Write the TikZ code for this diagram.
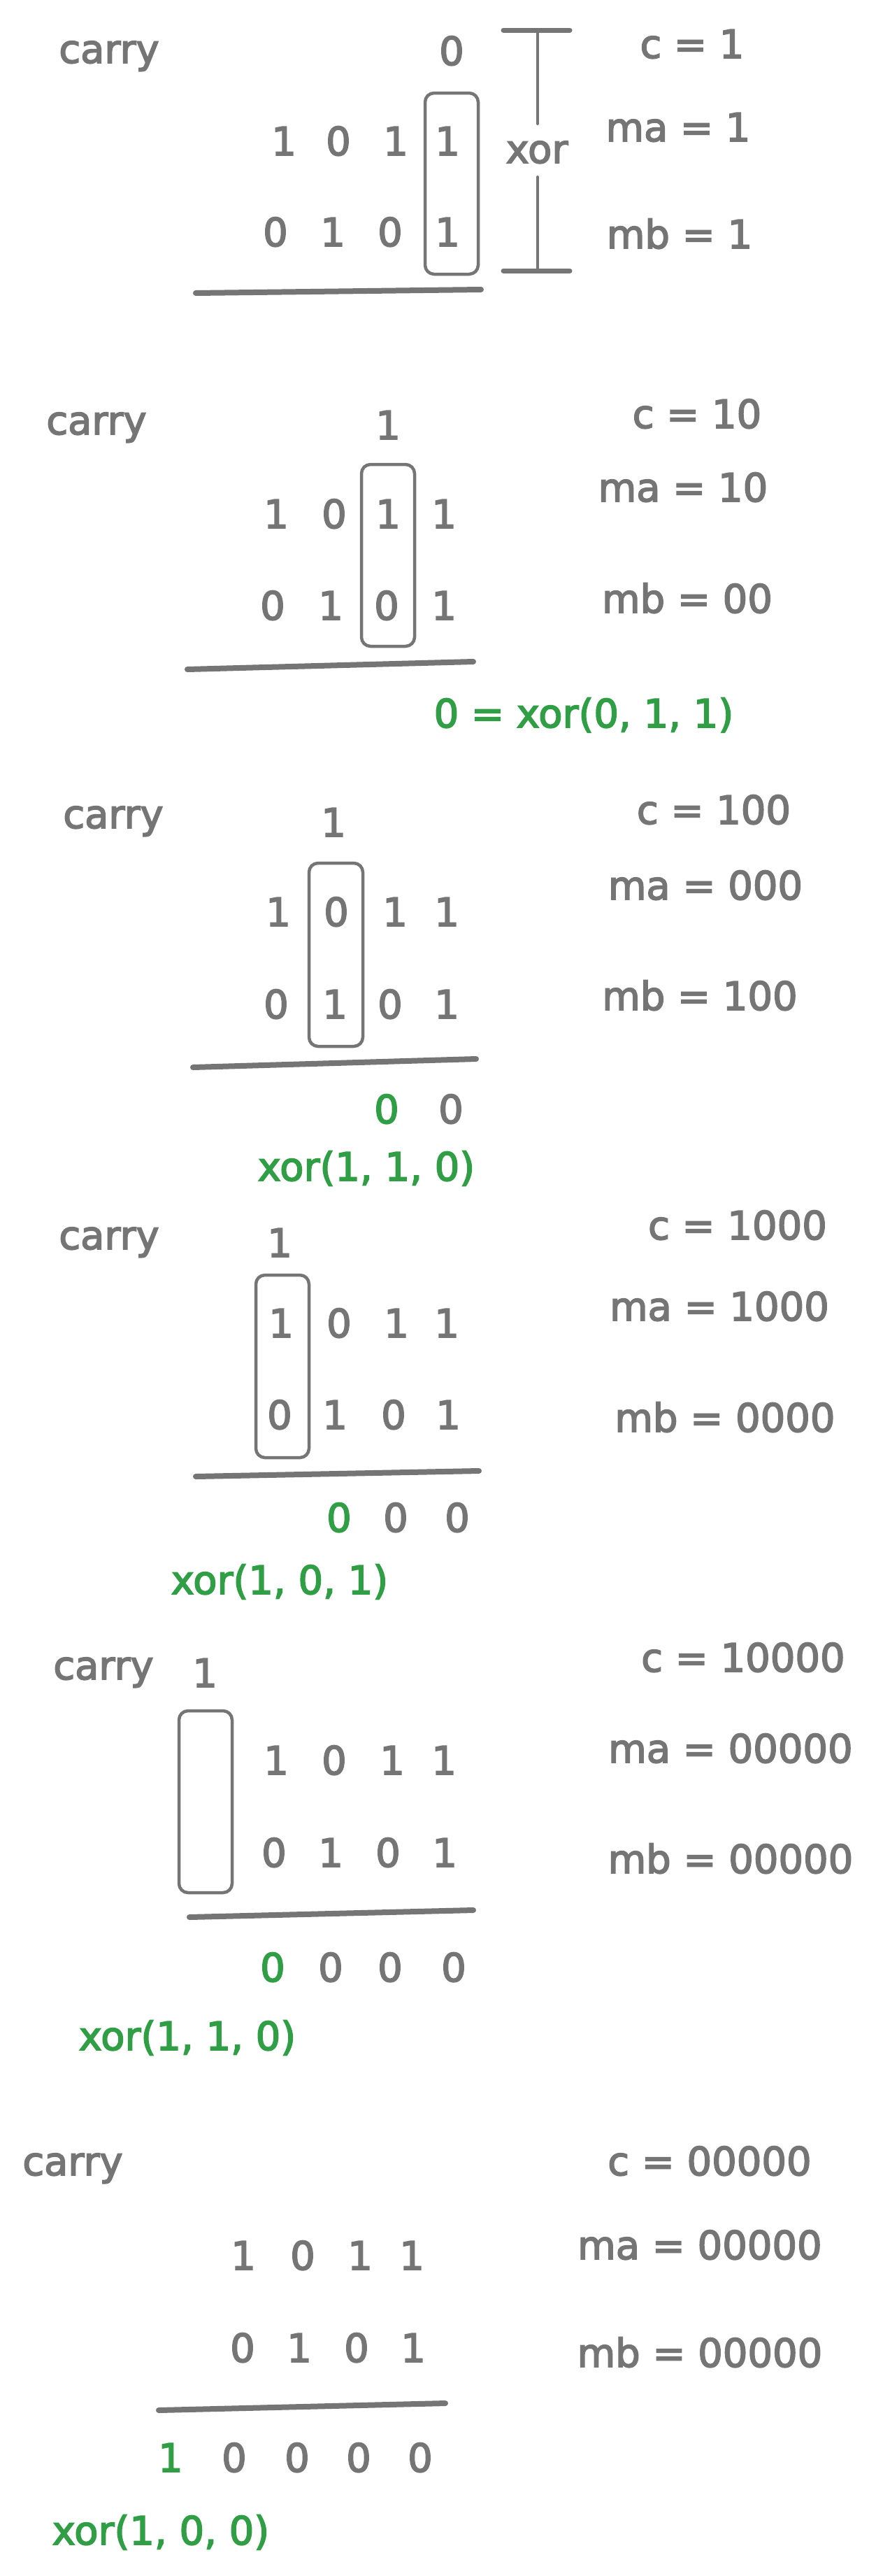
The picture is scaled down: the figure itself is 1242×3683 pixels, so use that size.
\documentclass[tikz,border=0pt]{standalone}
\usepackage{fontspec}
\setmainfont{DejaVu Sans}[BoldFont={DejaVu Sans},BoldFeatures={FakeBold=3}]
\definecolor{ink}{HTML}{757575}
\definecolor{grn}{HTML}{2F9E44}
\tikzset{
  txt/.style={inner sep=0pt, anchor=base, text=ink, font=\fontsize{56}{67}\selectfont\bfseries},
  gtxt/.style={txt, text=grn},
  selbox/.style={draw=ink, line width=4.5pt, rounded corners=13pt, inner sep=0pt},
  uline/.style={draw=ink, line width=8pt, line cap=round},
  beam/.style={draw=ink, line width=4pt, line cap=round},
  beamcap/.style={draw=ink, line width=7pt, line cap=round}
}
\begin{document}
\begin{tikzpicture}[x=1pt,y=-1pt]
\useasboundingbox[fill=white] (0,0) rectangle (1242,3683);

% ---------------- Panel 1
\node[txt] (p1carry) at (156,90) {carry};
\node[txt] (p1c) at (646,93) {0};
\foreach \d/\x [count=\i] in {1/406,0/484,1/566,1/640} \node[txt] (p1a\i) at (\x,222) {\d};
\foreach \d/\x [count=\i] in {0/394,1/476,0/558,1/640} \node[txt] (p1b\i) at (\x,352) {\d};
\node[selbox, minimum width=76pt, minimum height=259pt] (p1box) at (646,262.5) {};
\node[txt] (p1cv) at (990,83) {c = 1};
\node[txt] (p1ma) at (970,202) {ma = 1};
\node[txt] (p1mb) at (972,355) {mb = 1};
\node[txt] (p1xor) at (768,233) {xor};
\coordinate (p1tl) at (720,43); \coordinate (p1tr) at (815,43);
\coordinate (p1t) at (769,43); \coordinate (p1tm) at (769,177);
\coordinate (p1bm) at (769,253); \coordinate (p1b) at (769,387);
\coordinate (p1bl) at (720,387); \coordinate (p1br) at (815,387);
\draw[beamcap] (p1tl) -- (p1tr);
\draw[beam] (p1t) -- (p1tm);
\draw[beam] (p1bm) -- (p1b);
\draw[beamcap] (p1bl) -- (p1br);
\coordinate (p1u1) at (280,419); \coordinate (p1u2) at (688,414);
\draw[uline] (p1u1) -- (p1u2);

% ---------------- Panel 2
\node[txt] (p2carry) at (138,621) {carry};
\node[txt] (p2c) at (555,628) {1};
\foreach \d/\x [count=\i] in {1/395,0/478,1/555,1/635} \node[txt] (p2a\i) at (\x,755) {\d};
\foreach \d/\x [count=\i] in {0/390,1/473,0/553,1/635} \node[txt] (p2b\i) at (\x,886) {\d};
\node[selbox, minimum width=76pt, minimum height=260pt] (p2box) at (555,794) {};
\node[txt] (p2cv) at (997,612) {c = 10};
\node[txt] (p2ma) at (977,717) {ma = 10};
\node[txt] (p2mb) at (983,876) {mb = 00};
\coordinate (p2u1) at (268,957); \coordinate (p2u2) at (677,946);
\draw[uline] (p2u1) -- (p2u2);
\node[gtxt] (p2res) at (835,1040) {0 = xor(0, 1, 1)};

% ---------------- Panel 3
\node[txt] (p3carry) at (162,1184) {carry};
\node[txt] (p3c) at (477,1196) {1};
\foreach \d/\x [count=\i] in {1/398,0/481,1/565,1/639} \node[txt] (p3a\i) at (\x,1324) {\d};
\foreach \d/\x [count=\i] in {0/395,1/479,0/558,1/639} \node[txt] (p3b\i) at (\x,1456) {\d};
\node[selbox, minimum width=77pt, minimum height=262pt] (p3box) at (480.5,1365) {};
\node[txt] (p3cv) at (1021,1178) {c = 100};
\node[txt] (p3ma) at (1009,1286) {ma = 000};
\node[txt] (p3mb) at (1001,1444) {mb = 100};
\coordinate (p3u1) at (276,1526); \coordinate (p3u2) at (681,1514);
\draw[uline] (p3u1) -- (p3u2);
\node[gtxt] (p3r1) at (553,1606) {0};
\node[txt] (p3r2) at (645,1606) {0};
\node[gtxt] (p3res) at (524,1688) {xor(1, 1, 0)};

% ---------------- Panel 4
\node[txt] (p4carry) at (156,1786) {carry};
\node[txt] (p4c) at (400,1797) {1};
\foreach \d/\x [count=\i] in {1/402,0/485,1/567,1/639} \node[txt] (p4a\i) at (\x,1912) {\d};
\foreach \d/\x [count=\i] in {0/400,1/479,0/563,1/641} \node[txt] (p4b\i) at (\x,2043) {\d};
\node[selbox, minimum width=76pt, minimum height=261pt] (p4box) at (404,1953.5) {};
\node[txt] (p4cv) at (1055,1772) {c = 1000};
\node[txt] (p4ma) at (1029,1888) {ma = 1000};
\node[txt] (p4mb) at (1037,2047) {mb = 0000};
\coordinate (p4u1) at (280,2111); \coordinate (p4u2) at (685,2103);
\draw[uline] (p4u1) -- (p4u2);
\node[gtxt] (p4r1) at (485,2190) {0};
\node[txt] (p4r2) at (566,2190) {0};
\node[txt] (p4r3) at (654,2190) {0};
\node[gtxt] (p4res) at (400,2279) {xor(1, 0, 1)};

% ---------------- Panel 5
\node[txt] (p5carry) at (148,2401) {carry};
\node[txt] (p5c) at (293,2412) {1};
\foreach \d/\x [count=\i] in {1/395,0/478,1/561,1/635} \node[txt] (p5a\i) at (\x,2537) {\d};
\foreach \d/\x [count=\i] in {0/392,1/473,0/555,1/636} \node[txt] (p5b\i) at (\x,2669) {\d};
\node[selbox, minimum width=76pt, minimum height=260pt] (p5box) at (294,2576) {};
\node[txt] (p5cv) at (1063,2390) {c = 10000};
\node[txt] (p5ma) at (1045,2520) {ma = 00000};
\node[txt] (p5mb) at (1045,2678) {mb = 00000};
\coordinate (p5u1) at (271,2741); \coordinate (p5u2) at (677,2731);
\draw[uline] (p5u1) -- (p5u2);
\node[gtxt] (p5r1) at (390,2833) {0};
\node[txt] (p5r2) at (473,2833) {0};
\node[txt] (p5r3) at (558,2833) {0};
\node[txt] (p5r4) at (649,2833) {0};
\node[gtxt] (p5res) at (268,2931) {xor(1, 1, 0)};

% ---------------- Panel 6
\node[txt] (p6carry) at (104,3110) {carry};
\foreach \d/\x [count=\i] in {1/348,0/433,1/515,1/589} \node[txt] (p6a\i) at (\x,3245) {\d};
\foreach \d/\x [count=\i] in {0/347,1/428,0/510,1/591} \node[txt] (p6b\i) at (\x,3377) {\d};
\node[txt] (p6cv) at (1015,3110) {c = 00000};
\node[txt] (p6ma) at (1001,3230) {ma = 00000};
\node[txt] (p6mb) at (1001,3384) {mb = 00000};
\coordinate (p6u1) at (227,3446); \coordinate (p6u2) at (637,3436);
\draw[uline] (p6u1) -- (p6u2);
\node[gtxt] (p6r1) at (244,3534) {1};
\node[txt] (p6r2) at (335,3534) {0};
\node[txt] (p6r3) at (425,3534) {0};
\node[txt] (p6r4) at (513,3534) {0};
\node[txt] (p6r5) at (601,3534) {0};
\node[gtxt] (p6res) at (230,3638) {xor(1, 0, 0)};
\end{tikzpicture}
\end{document}
